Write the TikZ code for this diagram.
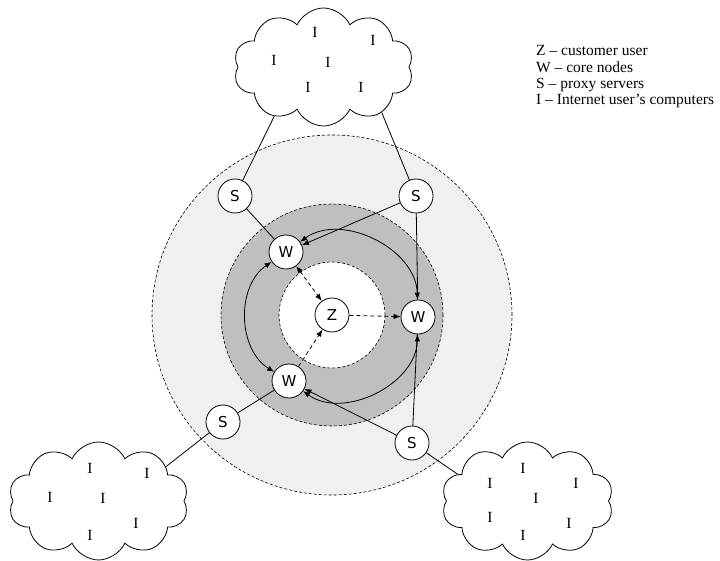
\documentclass[tikz,border=0pt]{standalone}
\usepackage{fontspec}
\setmainfont{Liberation Serif}
\newfontfamily\nodefont{DejaVu Sans}
\usetikzlibrary{shapes.symbols,arrows.meta}
\definecolor{outerzone}{gray}{0.94}
\definecolor{corezone}{gray}{0.75}
\begin{document}
\begin{tikzpicture}[x=1pt,y=1pt,
  netnode/.style={circle,draw,fill=white,line width=0.8pt,minimum size=34pt,inner sep=0pt,font=\nodefont\fontsize{15}{15}\selectfont},
  zone/.style={draw=black,dash pattern=on 3pt off 2pt,line width=0.6pt},
  inet/.style={cloud,draw,cloud puffs=10,cloud puff arc=130,cloud ignores aspect,line width=0.8pt,inner sep=0pt},
  ilabel/.style={inner sep=0pt,font=\fontsize{15.5}{15.5}\selectfont},
  legendtxt/.style={anchor=base west,inner sep=0pt,font=\fontsize{15.5}{16}\selectfont},
  link/.style={line width=0.8pt},
  arr/.style={link,-{Latex[length=7pt,width=5.5pt]}},
  darr/.style={link,{Latex[length=7pt,width=5.5pt]}-{Latex[length=7pt,width=5.5pt]}},
  dashedlink/.style={link,dash pattern=on 4pt off 3pt}
]
\useasboundingbox[fill=white] (0,0) rectangle (720,560);

% zones
\fill[outerzone,zone] (332,245) circle (180);
\fill[corezone,zone] (332,245) circle (111);
\fill[white,zone] (332,245) circle (53);

% clouds
\node[inet,minimum width=180pt,minimum height=118pt] (cloudT) at (323.5,493) {};
\node[inet,minimum width=180pt,minimum height=118pt] (cloudL) at (98.5,59) {};
\node[inet,minimum width=172pt,minimum height=118pt] (cloudR) at (527.5,59) {};

% I labels
\node[ilabel] (iT1) at (315,528) {I};
\node[ilabel] (iT2) at (373,520) {I};
\node[ilabel] (iT3) at (274,500) {I};
\node[ilabel] (iT4) at (328,498) {I};
\node[ilabel] (iT5) at (308,473) {I};
\node[ilabel] (iT6) at (361,473) {I};

\node[ilabel] (iL1) at (90,92) {I};
\node[ilabel] (iL2) at (147,87) {I};
\node[ilabel] (iL3) at (50,63) {I};
\node[ilabel] (iL4) at (103,62) {I};
\node[ilabel] (iL5) at (136,37) {I};
\node[ilabel] (iL6) at (90,25) {I};

\node[ilabel] (iR1) at (523,92) {I};
\node[ilabel] (iR2) at (490,77) {I};
\node[ilabel] (iR3) at (576,77) {I};
\node[ilabel] (iR4) at (536,62) {I};
\node[ilabel] (iR5) at (490,43) {I};
\node[ilabel] (iR6) at (569,37) {I};
\node[ilabel] (iR7) at (523,25) {I};

% nodes
\node[netnode] (Z) at (332,245) {Z};
\node[netnode] (W1) at (286,308) {W};
\node[netnode] (W2) at (418,243) {W};
\node[netnode] (W3) at (289,179) {W};
\node[netnode] (S1) at (235,364) {S};
\node[netnode] (S2) at (416,364) {S};
\node[netnode] (S3) at (223,138) {S};
\node[netnode] (S4) at (412,117) {S};

% connectors to clouds
\draw[link] (S1) -- (cloudT.225);
\draw[link] (S2) -- (cloudT.322);
\draw[link] (S3) -- (cloudL.27);
\draw[link] (S4) -- (cloudR.159);

\draw[link] (S1) -- (W1);
\draw[arr] (S2) -- (W1);
\draw[link] (S2) -- (W2);
\draw[link] (S3) -- (W3);
\draw[arr] (S4) -- (W3);
\draw[link] (S4) -- (W2);

\draw[darr] (W1) to[bend left=62] (W2);
\draw[darr] (W3) to[bend left=57] (W1);
\draw[darr] (W2) to[bend left=62] (W3);

\draw[darr,dashedlink] (W1) -- (Z);
\draw[arr,dashedlink] (W3) -- (Z);
\draw[arr,dashedlink] (Z) -- (W2);

% legend
\node[legendtxt] (lz) at (536,504) {Z – customer user};
\node[legendtxt] (lw) at (536,487.5) {W – core nodes};
\node[legendtxt] (ls) at (536,471) {S – proxy servers};
\node[legendtxt] (li) at (536,455) {I – Internet user’s computers};
\end{tikzpicture}
\end{document}
